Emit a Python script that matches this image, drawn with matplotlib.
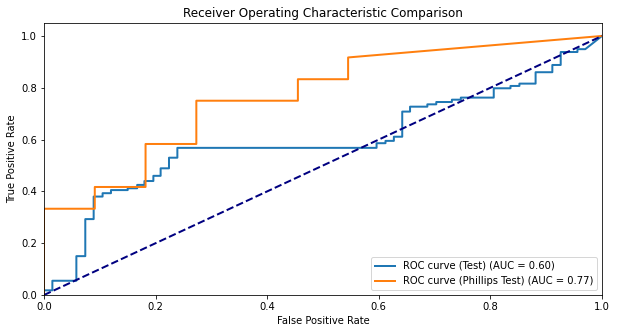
import matplotlib
matplotlib.use("Agg")
import matplotlib.pyplot as plt

# Test ROC curve (corner points)
fpr_test = [0, 0, 0.015, 0.015, 0.058, 0.058, 0.074, 0.074, 0.089, 0.089,
            0.105, 0.105, 0.12, 0.12, 0.15, 0.15, 0.167, 0.167, 0.18, 0.18,
            0.196, 0.196, 0.209, 0.209, 0.224, 0.224, 0.239, 0.239,
            0.596, 0.596, 0.612, 0.612, 0.627, 0.627, 0.642, 0.642,
            0.656, 0.656, 0.687, 0.687, 0.703, 0.703, 0.731, 0.731,
            0.747, 0.747, 0.806, 0.806, 0.836, 0.836, 0.852, 0.852,
            0.881, 0.881, 0.911, 0.911, 0.926, 0.926, 0.956, 0.956, 0.97, 1.0]
tpr_test = [0, 0.018, 0.018, 0.055, 0.055, 0.15, 0.15, 0.293, 0.293, 0.38,
            0.38, 0.393, 0.393, 0.405, 0.405, 0.412, 0.412, 0.425, 0.425, 0.44,
            0.44, 0.46, 0.46, 0.489, 0.489, 0.53, 0.53, 0.568,
            0.568, 0.586, 0.586, 0.595, 0.595, 0.611, 0.611, 0.708,
            0.708, 0.727, 0.727, 0.736, 0.736, 0.745, 0.745, 0.754,
            0.754, 0.762, 0.762, 0.798, 0.798, 0.807, 0.807, 0.816,
            0.816, 0.86, 0.86, 0.888, 0.888, 0.938, 0.938, 0.949, 0.949, 1.0]
auc_test = 0.60

# Phillips Test ROC curve
fpr_phil = [0, 0, 0.091, 0.091, 0.182, 0.182, 0.273, 0.273, 0.455, 0.455, 0.545, 0.545, 1.0]
tpr_phil = [0, 0.333, 0.333, 0.417, 0.417, 0.583, 0.583, 0.75, 0.75, 0.833, 0.833, 0.917, 1.0]
auc_phil = 0.77

W, H, DPI = 617, 333, 72
fig = plt.figure(figsize=(W / DPI, H / DPI), dpi=DPI)
ax = fig.add_axes([44 / W, (H - 295) / H, 558 / W, 272 / H])

ax.plot(fpr_test, tpr_test, color='#1f77b4', lw=2,
        label=f'ROC curve (Test) (AUC = {auc_test:.2f})')
ax.plot(fpr_phil, tpr_phil, color='#ff7f0e', lw=2,
        label=f'ROC curve (Phillips Test) (AUC = {auc_phil:.2f})')
ax.plot([0, 1], [0, 1], color='navy', lw=2, linestyle='--')

ax.set_xlim(0.0, 1.0)
ax.set_ylim(0.0, 1.05)
ax.set_xlabel('False Positive Rate')
ax.set_ylabel('True Positive Rate')
ax.set_title('Receiver Operating Characteristic Comparison')
ax.legend(loc='lower right')

fig.savefig('out.png', dpi=DPI)
